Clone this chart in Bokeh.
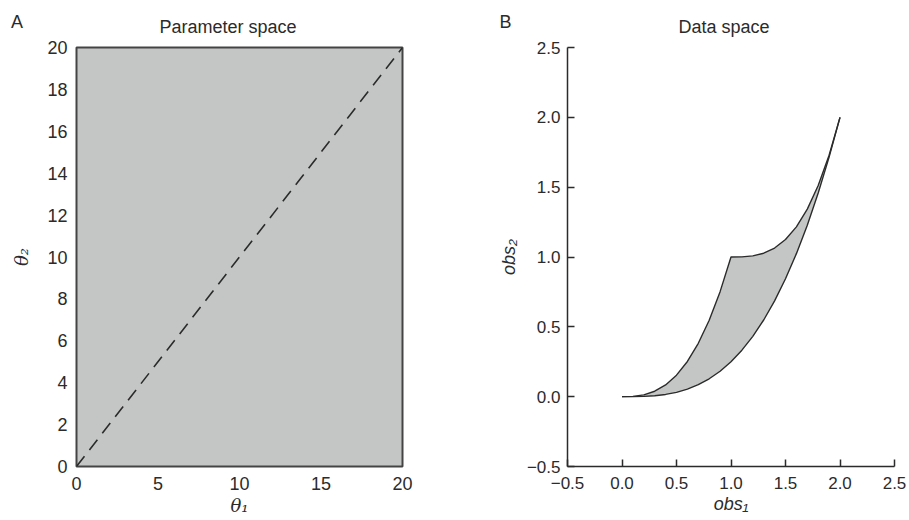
from bokeh.plotting import figure
from bokeh.layouts import row, column
from bokeh.models import Range1d, FixedTicker
from bokeh.core.properties import value
from bokeh.embed import file_html
from bokeh.resources import INLINE

# ---- data ----
theta_ticks_x = [0, 5, 10, 15, 20]
theta_ticks_y = [0, 2, 4, 6, 8, 10, 12, 14, 16, 18, 20]
diag_theta1 = [0, 20]
diag_theta2 = [0, 20]

obs_ticks = [-0.5, 0.0, 0.5, 1.0, 1.5, 2.0, 2.5]
obs_tick_labels = ["\u22120.5", "0.0", "0.5", "1.0", "1.5", "2.0", "2.5"]

upper_obs1 = [0.0, 0.1, 0.2, 0.3, 0.4, 0.5, 0.6, 0.7, 0.8, 0.9, 1.0,
              1.1, 1.2, 1.3, 1.4, 1.5, 1.6, 1.7, 1.8, 1.9, 2.0]
upper_obs2 = [0.0, 0.002, 0.013, 0.039, 0.084, 0.154, 0.252, 0.382, 0.547, 0.752, 1.0,
              1.001, 1.008, 1.027, 1.064, 1.125, 1.216, 1.343, 1.512, 1.729, 2.0]
lower_obs1 = [0.0, 0.1, 0.2, 0.3, 0.4, 0.5, 0.6, 0.7, 0.8, 0.9, 1.0,
              1.1, 1.2, 1.3, 1.4, 1.5, 1.6, 1.7, 1.8, 1.9, 2.0]
lower_obs2 = [0.0, 0.0003, 0.002, 0.007, 0.016, 0.031, 0.054, 0.086, 0.128, 0.182, 0.25,
              0.333, 0.432, 0.549, 0.686, 0.844, 1.024, 1.228, 1.458, 1.715, 2.0]

panel_letters = ["A", "B"]
panel_titles = ["Parameter space", "Data space"]

FONT = "Liberation Sans"
GRAY = "#c4c6c5"
DARK = "#2b2b2b"
HEAD_H = 37
PANEL_H = 520 - HEAD_H


def header(width, letter, letter_x, title, title_x):
    h = figure(width=width, height=HEAD_H, output_backend="svg", toolbar_location=None,
               x_range=Range1d(0, width), y_range=Range1d(0, HEAD_H),
               x_axis_location=None, y_axis_location=None, title=None, min_border=0)
    h.outline_line_color = None
    h.grid.visible = False
    h.text(x=[letter_x, title_x], y=[15.8, 11], text=[letter, title],
           text_font=value(FONT), text_font_size=value("18px"), text_color=DARK,
           text_align="center", text_baseline="alphabetic")
    return h


ha = header(470, panel_letters[0], 16.5, panel_titles[0], 227.5)
hb = header(439, panel_letters[1], 35, panel_titles[1], 253.5)

# ---- panel A ----
pa = figure(width=470, height=PANEL_H, output_backend="svg", toolbar_location=None, title=None,
            x_range=Range1d(0, 20), y_range=Range1d(0, 20),
            min_border_left=76, min_border_right=68, min_border_top=47 - HEAD_H,
            min_border_bottom=54)
pa.background_fill_color = GRAY
pa.border_fill_color = "white"
pa.outline_line_color = "#444444"
pa.outline_line_width = 2
pa.grid.visible = False
pa.line(diag_theta1, diag_theta2, line_color=DARK, line_width=1.6, line_dash="13 8")
pa.xaxis.ticker = FixedTicker(ticks=theta_ticks_x)
pa.yaxis.ticker = FixedTicker(ticks=theta_ticks_y)
for ax in (pa.xaxis[0], pa.yaxis[0]):
    ax.axis_line_color = None
    ax.major_tick_in = 0
    ax.major_tick_out = 0
    ax.minor_tick_line_color = None
    ax.major_label_text_font = FONT
    ax.major_label_text_font_size = "18px"
    ax.major_label_text_color = DARK
    ax.axis_label_text_font = "DejaVu Serif"
    ax.axis_label_text_font_style = "italic"
    ax.axis_label_text_font_size = "18px"
    ax.axis_label_text_color = DARK
pa.xaxis.axis_label = "\u03b8\u2081"
pa.yaxis.axis_label = "\u03b8\u2082"
pa.xaxis.major_label_standoff = 10
pa.xaxis.axis_label_standoff = 2
pa.yaxis.major_label_standoff = 9
pa.yaxis.axis_label_standoff = 12

# ---- panel B ----
pb = figure(width=439, height=PANEL_H, output_backend="svg", toolbar_location=None, title=None,
            x_range=Range1d(-0.5, 2.5), y_range=Range1d(-0.5, 2.5),
            min_border_left=97, min_border_right=15, min_border_top=47 - HEAD_H,
            min_border_bottom=54)
pb.outline_line_color = None
pb.grid.visible = False
pb.patch(upper_obs1 + lower_obs1[::-1], upper_obs2 + lower_obs2[::-1],
         fill_color=GRAY, line_color=None)
pb.line(upper_obs1, upper_obs2, line_color=DARK, line_width=1.4)
pb.line(lower_obs1, lower_obs2, line_color=DARK, line_width=1.4)
for ax in (pb.xaxis[0], pb.yaxis[0]):
    ax.ticker = FixedTicker(ticks=obs_ticks)
    ax.major_label_overrides = {t: s for t, s in zip(obs_ticks, obs_tick_labels)}
    ax.axis_line_color = DARK
    ax.axis_line_width = 1.5
    ax.major_tick_line_color = DARK
    ax.major_tick_line_width = 1.5
    ax.major_tick_in = 7
    ax.major_tick_out = 0
    ax.minor_tick_line_color = None
    ax.major_label_text_font = FONT
    ax.major_label_text_font_size = "17px"
    ax.major_label_text_color = DARK
    ax.axis_label_text_font = FONT
    ax.axis_label_text_font_style = "italic"
    ax.axis_label_text_font_size = "18px"
    ax.axis_label_text_color = DARK
pb.xaxis.axis_label = "obs\u2081"
pb.yaxis.axis_label = "obs\u2082"
pb.xaxis.major_label_standoff = 10
pb.xaxis.axis_label_standoff = 2
pb.yaxis.major_label_standoff = 7
pb.yaxis.axis_label_standoff = 5

layout = column(row(ha, hb), row(pa, pb))
open("out.html", "w").write(file_html(layout, INLINE))
